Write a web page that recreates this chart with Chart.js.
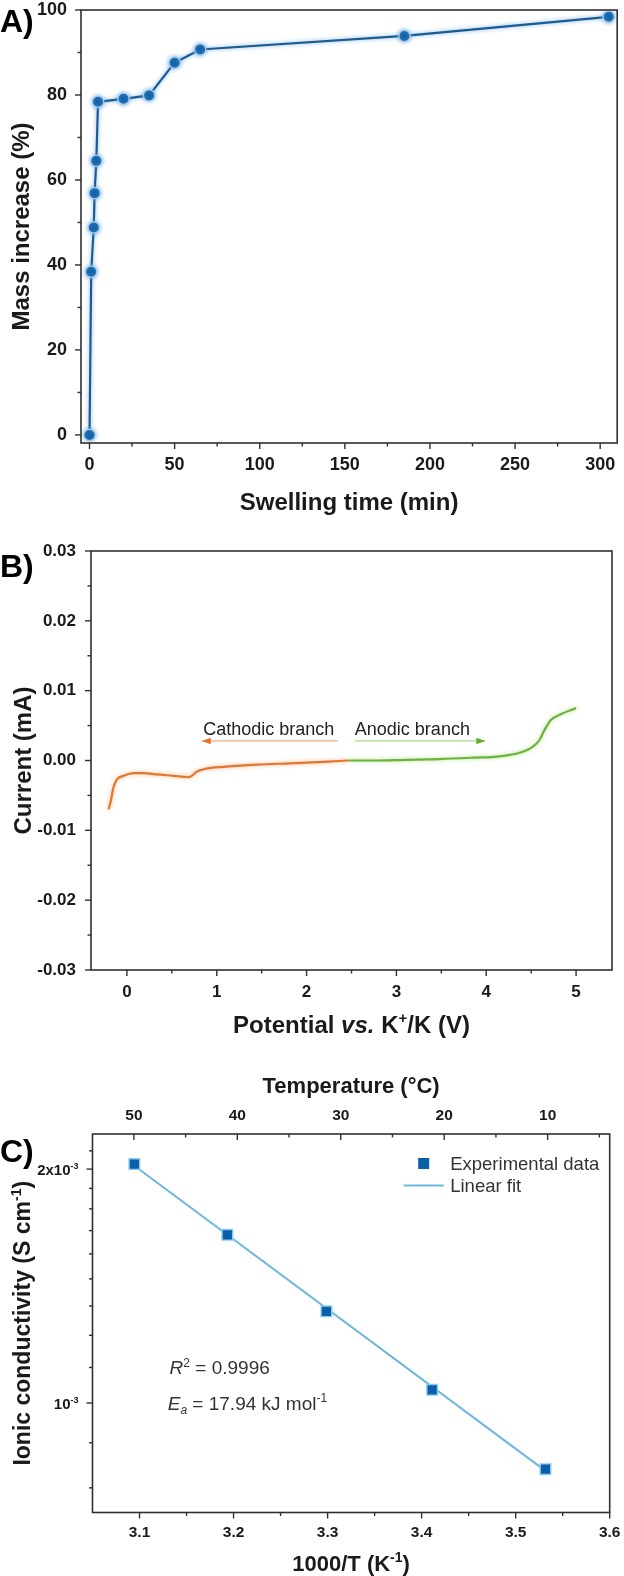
<!DOCTYPE html>
<html>
<head>
<meta charset="utf-8">
<script src="https://cdn.jsdelivr.net/npm/chart.js@4.4.0/dist/chart.umd.min.js"></script>
<style>
  body { margin: 0; background: #fff; }
  #page { position: relative; width: 624px; height: 1576px; overflow: hidden; background: #fff; }
  canvas { position: absolute; left: 0; }
</style>
</head>
<body>
<div id="page">
  <canvas id="chartA" width="624" height="520" style="top:0"></canvas>
  <canvas id="chartB" width="624" height="520" style="top:520px"></canvas>
  <canvas id="chartC" width="624" height="536" style="top:1040px"></canvas>
</div>
<script>
// A) mass increase vs swelling time
const swellTime = [0, 1, 2.5, 3, 4, 5, 20, 35, 50, 65, 185, 305];
const massIncrease = [0, 38.4, 48.8, 56.9, 64.5, 78.4, 79.1, 79.9, 87.6, 90.7, 93.9, 98.4];
const swellTimeTicks = [0, 50, 100, 150, 200, 250, 300];
const massTicks = [0, 20, 40, 60, 80, 100];

// B) linear sweep, cathodic + anodic branch
const cathodicV = [-0.204, -0.178, -0.149, -0.111, -0.037, 0.074, 0.185, 0.333, 0.519, 0.685, 0.722, 0.778, 0.870, 1.074, 1.444, 1.815, 2.185, 2.46];
const cathodicI = [-0.0070, -0.0057, -0.0038, -0.0027, -0.0022, -0.0018, -0.0018, -0.0020, -0.0022, -0.0024, -0.0022, -0.0016, -0.0012, -0.0009, -0.0006, -0.0004, -0.0002, 0.0000];
const anodicV = [2.46, 2.74, 3.11, 3.48, 3.85, 4.15, 4.37, 4.52, 4.59, 4.65, 4.72, 4.81, 5.0];
const anodicI = [0.0000, 0.0000, 0.0001, 0.0002, 0.0004, 0.0006, 0.0011, 0.0020, 0.0029, 0.0044, 0.0058, 0.0065, 0.0075];
const potentialTicks = [0, 1, 2, 3, 4, 5];
const currentTicks = [-0.03, -0.02, -0.01, 0, 0.01, 0.02, 0.03];

// C) Arrhenius plot
const invTemp = [3.0945, 3.1934, 3.2987, 3.4112, 3.5317];
const conductivity = [2.03e-3, 1.646e-3, 1.312e-3, 1.040e-3, 0.822e-3];
const fitInvTemp = [3.0945, 3.5317];
const fitConductivity = [2.02e-3, 0.818e-3];
const invTempTicks = [3.1, 3.2, 3.3, 3.4, 3.5, 3.6];
const tempTicks = [50, 40, 30, 20, 10];
const condTicks = [1e-3, 2e-3];
const condTickLabels = ['10^{-3}', '2x10^{-3}'];

const FONT = "'Liberation Sans', Arial, Helvetica, sans-serif";
const INK = '#1a1a1a';
const AXIS = '#303030';
Chart.defaults.font.family = FONT;
Chart.defaults.color = INK;
Chart.defaults.animation = false;

function pts(xs, ys) {
    return xs.map((x, i) => ({x: x, y: ys[i]}));
}

// "a^{b}" superscript, "a_{b}" subscript, "*a*" italic
function parseRich(s) {
    const parts = [];
    const re = /\^\{([^}]*)\}|_\{([^}]*)\}|\*([^*]*)\*|([^^_*]+)/g;
    let m;
    while ((m = re.exec(s))) {
        if (m[1] !== undefined) parts.push({t: m[1], sup: true});
        else if (m[2] !== undefined) parts.push({t: m[2], sub: true});
        else if (m[3] !== undefined) parts.push({t: m[3], italic: true});
        else parts.push({t: m[4]});
    }
    return parts;
}

function drawRich(ctx, parts, x, y, o) {
    if (typeof parts === 'string') parts = parseRich(parts);
    const size = o.size;
    const weight = o.weight || 'normal';
    const font = p => (p.italic ? 'italic ' : '') + weight + ' ' +
        ((p.sup || p.sub) ? Math.round(size * 0.62) : size) + 'px ' + FONT;
    let w = 0;
    parts.forEach(p => { ctx.font = font(p); w += ctx.measureText(p.t).width; });
    let cx = o.align === 'center' ? -w / 2 : (o.align === 'right' ? -w : 0);
    ctx.save();
    ctx.translate(x, y);
    if (o.rotate) ctx.rotate(o.rotate);
    ctx.fillStyle = o.color || INK;
    ctx.textAlign = 'left';
    ctx.textBaseline = 'alphabetic';
    parts.forEach(p => {
        ctx.font = font(p);
        const dy = p.sup ? -size * 0.4 : (p.sub ? size * 0.22 : 0);
        ctx.fillText(p.t, cx, dy);
        cx += ctx.measureText(p.t).width;
    });
    ctx.restore();
}

// soft halo under the curves
const glowPlugin = {
    id: 'glow',
    beforeDatasetDraw(chart, args) {
        const ds = chart.data.datasets[args.index];
        if (!ds.glow) return;
        chart.ctx.save();
        chart.ctx.shadowColor = ds.glow;
        chart.ctx.shadowBlur = 4;
    },
    afterDatasetDraw(chart, args) {
        if (chart.data.datasets[args.index].glow) chart.ctx.restore();
    }
};

function minorBetween(major, extra) {
    const out = [];
    for (let i = 0; i < major.length - 1; i++) out.push((major[i] + major[i + 1]) / 2);
    return out.concat(extra || []);
}

// box, outward/inward tick marks and all the free text
function framePlugin(tickSpecs, drawText) {
    return {
        id: 'frame',
        afterDraw(chart) {
            const ctx = chart.ctx;
            const a = chart.chartArea;
            ctx.save();
            ctx.strokeStyle = AXIS;
            ctx.lineWidth = 1.6;
            ctx.strokeRect(a.left, a.top, a.right - a.left, a.bottom - a.top);
            ctx.lineWidth = 1.4;
            tickSpecs.forEach(t => {
                const sc = chart.scales[t.id];
                const draw = (vals, len) => vals.forEach(v => {
                    const p = sc.getPixelForValue(v);
                    ctx.beginPath();
                    if (t.side === 'bottom') { ctx.moveTo(p, a.bottom); ctx.lineTo(p, a.bottom + len); }
                    else if (t.side === 'top') { ctx.moveTo(p, a.top); ctx.lineTo(p, a.top + len); }
                    else { ctx.moveTo(a.left, p); ctx.lineTo(a.left - len, p); }
                    ctx.stroke();
                });
                draw(t.major, 6);
                draw(t.minor, 3.5);
            });
            drawText(chart, ctx, a);
            ctx.restore();
        }
    };
}

function fixedTicks(values) {
    return scale => { scale.ticks = values.map(v => ({value: v})); };
}

// pin the axis box size and drop the label overhang padding
function fixSize(key, px) {
    return scale => {
        scale[key] = px;
        scale.paddingLeft = scale.paddingRight = scale.paddingTop = scale.paddingBottom = 0;
    };
}

function axisBase(extra) {
    return Object.assign({
        type: 'linear',
        grid: {display: false, drawTicks: false},
        border: {display: false}
    }, extra);
}

const tickFont = size => ({size: size, weight: 'bold'});

// ---------------- A ----------------
new Chart(document.getElementById('chartA'), {
    type: 'scatter',
    data: {
        datasets: [{
            data: pts(swellTime, massIncrease),
            showLine: true,
            borderColor: '#1c5b93',
            borderWidth: 2.2,
            pointRadius: 5.6,
            pointBackgroundColor: '#0c60a6',
            pointBorderColor: '#a9cdee',
            pointBorderWidth: 1.2,
            glow: 'rgba(110,170,225,0.9)'
        }]
    },
    options: {
        responsive: false,
        layout: {padding: {top: 10, right: 5, left: 0, bottom: 0}},
        plugins: {legend: {display: false}, tooltip: {enabled: false}},
        scales: {
            x: axisBase({
                min: -5, max: 310,
                afterBuildTicks: fixedTicks(swellTimeTicks),
                afterFit: fixSize('height', 77),
                ticks: {padding: 11, font: tickFont(18), color: INK, maxRotation: 0, autoSkip: false}
            }),
            y: axisBase({
                min: -1.9, max: 100,
                afterBuildTicks: fixedTicks(massTicks),
                afterFit: fixSize('width', 81),
                ticks: {padding: 14, font: tickFont(18), color: INK, autoSkip: false}
            })
        }
    },
    plugins: [glowPlugin, framePlugin([
        {id: 'x', side: 'bottom', major: swellTimeTicks, minor: minorBetween(swellTimeTicks)},
        {id: 'y', side: 'left', major: massTicks, minor: minorBetween(massTicks)}
    ], (chart, ctx, a) => {
        drawRich(ctx, 'A)', 0, 32, {size: 32, weight: 'bold', color: '#000'});
        drawRich(ctx, 'Swelling time (min)', (a.left + a.right) / 2, 510, {size: 24, weight: 'bold', align: 'center'});
        drawRich(ctx, 'Mass increase (%)', 29, (a.top + a.bottom) / 2, {size: 24, weight: 'bold', align: 'center', rotate: -Math.PI / 2});
    })]
});

// ---------------- B ----------------
function arrow(ctx, x1, x2, y, lineColor, headColor) {
    ctx.strokeStyle = lineColor;
    ctx.lineWidth = 1.2;
    ctx.beginPath();
    ctx.moveTo(x1, y);
    ctx.lineTo(x2, y);
    ctx.stroke();
    const dir = x2 > x1 ? 1 : -1;
    ctx.fillStyle = headColor;
    ctx.beginPath();
    ctx.moveTo(x2, y);
    ctx.lineTo(x2 - dir * 9, y - 3.2);
    ctx.lineTo(x2 - dir * 9, y + 3.2);
    ctx.closePath();
    ctx.fill();
}

new Chart(document.getElementById('chartB'), {
    type: 'scatter',
    data: {
        datasets: [{
            data: pts(cathodicV, cathodicI),
            showLine: true,
            borderColor: '#e2772f',
            borderWidth: 2.2,
            pointRadius: 0,
            cubicInterpolationMode: 'monotone',
            glow: 'rgba(240,160,110,0.8)'
        }, {
            data: pts(anodicV, anodicI),
            showLine: true,
            borderColor: '#6cb33c',
            borderWidth: 2.2,
            pointRadius: 0,
            cubicInterpolationMode: 'monotone',
            glow: 'rgba(160,215,120,0.8)'
        }]
    },
    options: {
        responsive: false,
        layout: {padding: {top: 31, right: 12, left: 0, bottom: 0}},
        plugins: {legend: {display: false}, tooltip: {enabled: false}},
        scales: {
            x: axisBase({
                min: -0.4, max: 5.4,
                afterBuildTicks: fixedTicks(potentialTicks),
                afterFit: fixSize('height', 70),
                ticks: {padding: 12, font: tickFont(17), color: INK, maxRotation: 0, autoSkip: false}
            }),
            y: axisBase({
                min: -0.03, max: 0.03,
                afterBuildTicks: fixedTicks(currentTicks),
                afterFit: fixSize('width', 91),
                ticks: {padding: 15, font: tickFont(17), color: INK, autoSkip: false,
                        callback: v => v.toFixed(2)}
            })
        }
    },
    plugins: [glowPlugin, framePlugin([
        {id: 'x', side: 'bottom', major: potentialTicks, minor: minorBetween(potentialTicks)},
        {id: 'y', side: 'left', major: currentTicks, minor: minorBetween(currentTicks)}
    ], (chart, ctx, a) => {
        const sx = chart.scales.x, sy = chart.scales.y;
        drawRich(ctx, 'B)', 0, 57, {size: 32, weight: 'bold', color: '#000'});
        drawRich(ctx, 'Potential *vs.* K^{+}/K (V)', (a.left + a.right) / 2, 513, {size: 24, weight: 'bold', align: 'center'});
        drawRich(ctx, 'Current (mA)', 31, (a.top + a.bottom) / 2, {size: 24, weight: 'bold', align: 'center', rotate: -Math.PI / 2});
        const textY = sy.getPixelForValue(0.0037);
        const arrowY = sy.getPixelForValue(0.0028);
        drawRich(ctx, 'Cathodic branch', sx.getPixelForValue(0.85), textY, {size: 18, color: '#222'});
        drawRich(ctx, 'Anodic branch', sx.getPixelForValue(2.537), textY, {size: 18, color: '#222'});
        arrow(ctx, sx.getPixelForValue(2.35), sx.getPixelForValue(0.833), arrowY, '#f2ab85', '#e8702a');
        arrow(ctx, sx.getPixelForValue(2.537), sx.getPixelForValue(3.99), arrowY, '#a8d88c', '#5fb030');
    })]
});

// ---------------- C ----------------
new Chart(document.getElementById('chartC'), {
    type: 'scatter',
    data: {
        datasets: [{
            data: pts(invTemp, conductivity),
            pointStyle: 'rect',
            pointRadius: 7.5,
            pointBackgroundColor: '#0a5fa8',
            pointBorderColor: '#8ccbef',
            pointBorderWidth: 1.4,
            order: 0
        }, {
            data: pts(fitInvTemp, fitConductivity),
            showLine: true,
            borderColor: '#6db7dd',
            borderWidth: 2,
            pointRadius: 0,
            order: 1
        }]
    },
    options: {
        responsive: false,
        layout: {padding: {top: 0, right: 14.3, left: 0, bottom: 0}},
        plugins: {legend: {display: false}, tooltip: {enabled: false}},
        scales: {
            x: axisBase({
                min: 3.05, max: 3.6,
                afterBuildTicks: fixedTicks(invTempTicks),
                afterFit: fixSize('height', 63.5),
                ticks: {padding: 11, font: tickFont(15.5), color: INK, maxRotation: 0, autoSkip: false,
                        callback: v => v.toFixed(1)}
            }),
            x2: axisBase({
                position: 'top',
                display: true,
                reverse: true,
                min: 4, max: 54,
                afterBuildTicks: fixedTicks(tempTicks),
                afterFit: fixSize('height', 94),
                ticks: {padding: 9, font: tickFont(15.5), color: INK, maxRotation: 0, autoSkip: false}
            }),
            y: {
                type: 'logarithmic',
                min: 7.23e-4, max: 2.219e-3,
                grid: {display: false, drawTicks: false},
                border: {display: false},
                afterBuildTicks: fixedTicks(condTicks),
                afterFit: fixSize('width', 92.5),
                ticks: {display: false}
            }
        }
    },
    plugins: [framePlugin([
        {id: 'x', side: 'bottom', major: invTempTicks, minor: minorBetween(invTempTicks)},
        {id: 'x2', side: 'top', major: tempTicks, minor: minorBetween(tempTicks, [5])},
        {id: 'y', side: 'left', major: condTicks,
         minor: [-2, -1, 1, 2, 3, 4, 5, 6, 7, 8, 10].map(k => condTicks[0] * (1 + k / 9))}
    ], (chart, ctx, a) => {
        const sx = chart.scales.x, sy = chart.scales.y;
        drawRich(ctx, 'C)', 0, 122, {size: 32, weight: 'bold', color: '#000'});
        drawRich(ctx, 'Temperature (°C)', (a.left + a.right) / 2, 53, {size: 22, weight: 'bold', align: 'center'});
        drawRich(ctx, '1000/T (K^{-1})', (a.left + a.right) / 2, 531, {size: 22, weight: 'bold', align: 'center'});
        drawRich(ctx, 'Ionic conductivity (S cm^{-1})', 30, (a.top + a.bottom) / 2, {size: 23, weight: 'bold', align: 'center', rotate: -Math.PI / 2});
        condTicks.forEach((v, i) => {
            drawRich(ctx, condTickLabels[i], a.left - 14, sy.getPixelForValue(v) + 5.5, {size: 15, weight: 'bold', align: 'right'});
        });
        drawRich(ctx, [{t: 'R', italic: true}, {t: '2', sup: true}, {t: ' = 0.9996'}],
            sx.getPixelForValue(3.132), sy.getPixelForValue(1.089e-3), {size: 19, color: '#333'});
        drawRich(ctx, [{t: 'E', italic: true}, {t: 'a', sub: true, italic: true}, {t: ' = 17.94 kJ mol'}, {t: '-1', sup: true}],
            sx.getPixelForValue(3.130), sy.getPixelForValue(0.9806e-3), {size: 19, color: '#333'});
        // legend
        ctx.fillStyle = '#0a5fa8';
        ctx.fillRect(a.right - 191.5, a.top + 24, 11, 11);
        ctx.strokeStyle = '#6db7dd';
        ctx.lineWidth = 2;
        ctx.beginPath();
        ctx.moveTo(a.right - 206, a.top + 51.5);
        ctx.lineTo(a.right - 166, a.top + 51.5);
        ctx.stroke();
        drawRich(ctx, 'Experimental data', a.right - 159.5, a.top + 36, {size: 18.5, color: '#333'});
        drawRich(ctx, 'Linear fit', a.right - 159.5, a.top + 58, {size: 18.5, color: '#333'});
    })]
});
</script>
</body>
</html>
